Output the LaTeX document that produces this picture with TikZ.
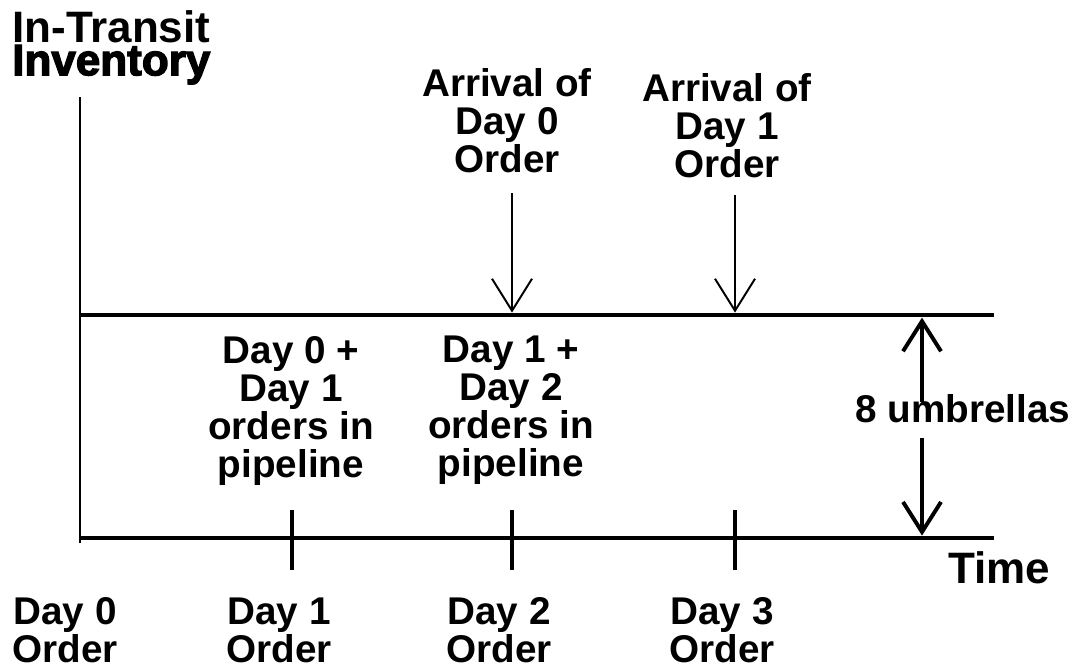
\documentclass[tikz,border=0pt]{standalone}
\usepackage{fontspec}
\setmainfont{Liberation Sans}
\newfontfamily\heavyfont[FakeBold=3]{Liberation Sans Bold}
\usetikzlibrary{arrows.meta}

\tikzset{
    lbl/.style={font=\fontsize{27.5}{27}\selectfont\bfseries, align=center, inner sep=0pt},
    ttl/.style={font=\fontsize{31.3}{23.5}\selectfont\bfseries, align=left, inner sep=0pt},
    axis/.style={line width=3.3pt},
    yaxis/.style={line width=2.1pt},
    tickmark/.style={line width=2.5pt},
    arrival/.style={line width=1.4pt, -{Straight Barb[length=0.8cm, width=1cm]}},
    dimarrow/.style={line width=2.8pt, -{Straight Barb[length=0.75cm, width=0.95cm]}},
}

\begin{document}
\begin{tikzpicture}
    \useasboundingbox (0,0) rectangle (27.175,16.7);

    % axes and inventory level
    \coordinate (origin) at (2,3.25);
    \coordinate (ytop) at (2,14.275);
    \coordinate (ybot) at (2,3.125);
    \coordinate (xend) at (24.85,3.25);
    \coordinate (lvlL) at (2,8.825);
    \coordinate (lvlR) at (24.85,8.825);

    \draw[yaxis] (ybot) -- (ytop);
    \draw[axis] (origin) -- (xend);
    \draw[axis] (lvlL) -- (lvlR);

    \foreach \x/\d in {7.3/1, 12.8/2, 18.375/3} {
        \coordinate (tick\d) at (\x,3.25);
        \draw[tickmark] ([yshift=0.7cm]tick\d) -- ([yshift=-0.8cm]tick\d);
    }

    \node[ttl, anchor=north west] (title) at (0.3,16.45) {In-Transit\\{\heavyfont\mdseries Inventory}};
    \node[ttl, anchor=base] (time) at (24.975,2.125) {Time};

    % arrivals
    \node[lbl] (arr0) at (12.675,13.675) {Arrival of\\Day 0\\Order};
    \node[lbl] (arr1) at (18.175,13.55) {Arrival of\\Day 1\\Order};
    \coordinate (from0) at (12.8,11.875);
    \coordinate (hit0) at (12.8,8.885);
    \coordinate (from1) at (18.375,11.825);
    \coordinate (hit1) at (18.375,8.885);
    \draw[arrival] (from0) -- (hit0);
    \draw[arrival] (from1) -- (hit1);

    \node[lbl] (pipe01) at (7.275,6.42) {Day 0 +\\Day 1\\orders in\\pipeline};
    \node[lbl] (pipe12) at (12.775,6.44) {Day 1 +\\Day 2\\orders in\\pipeline};

    % 8 umbrellas
    \node[lbl, anchor=base] (umb) at (24.075,6.15) {8 umbrellas};
    \coordinate (dimT) at (23.05,8.76);
    \coordinate (dimB) at (23.05,3.31);
    \coordinate (gapT) at (23.05,6.65);
    \coordinate (gapB) at (23.05,5.75);
    \draw[dimarrow] (gapT) -- (dimT);
    \draw[dimarrow] (gapB) -- (dimB);

    \foreach \x/\d in {1.625/0, 6.975/1, 12.475/2, 18.05/3}
        \node[lbl, anchor=base] (ord\d) at (\x,0.15) {Day \d\\Order};
\end{tikzpicture}
\end{document}
